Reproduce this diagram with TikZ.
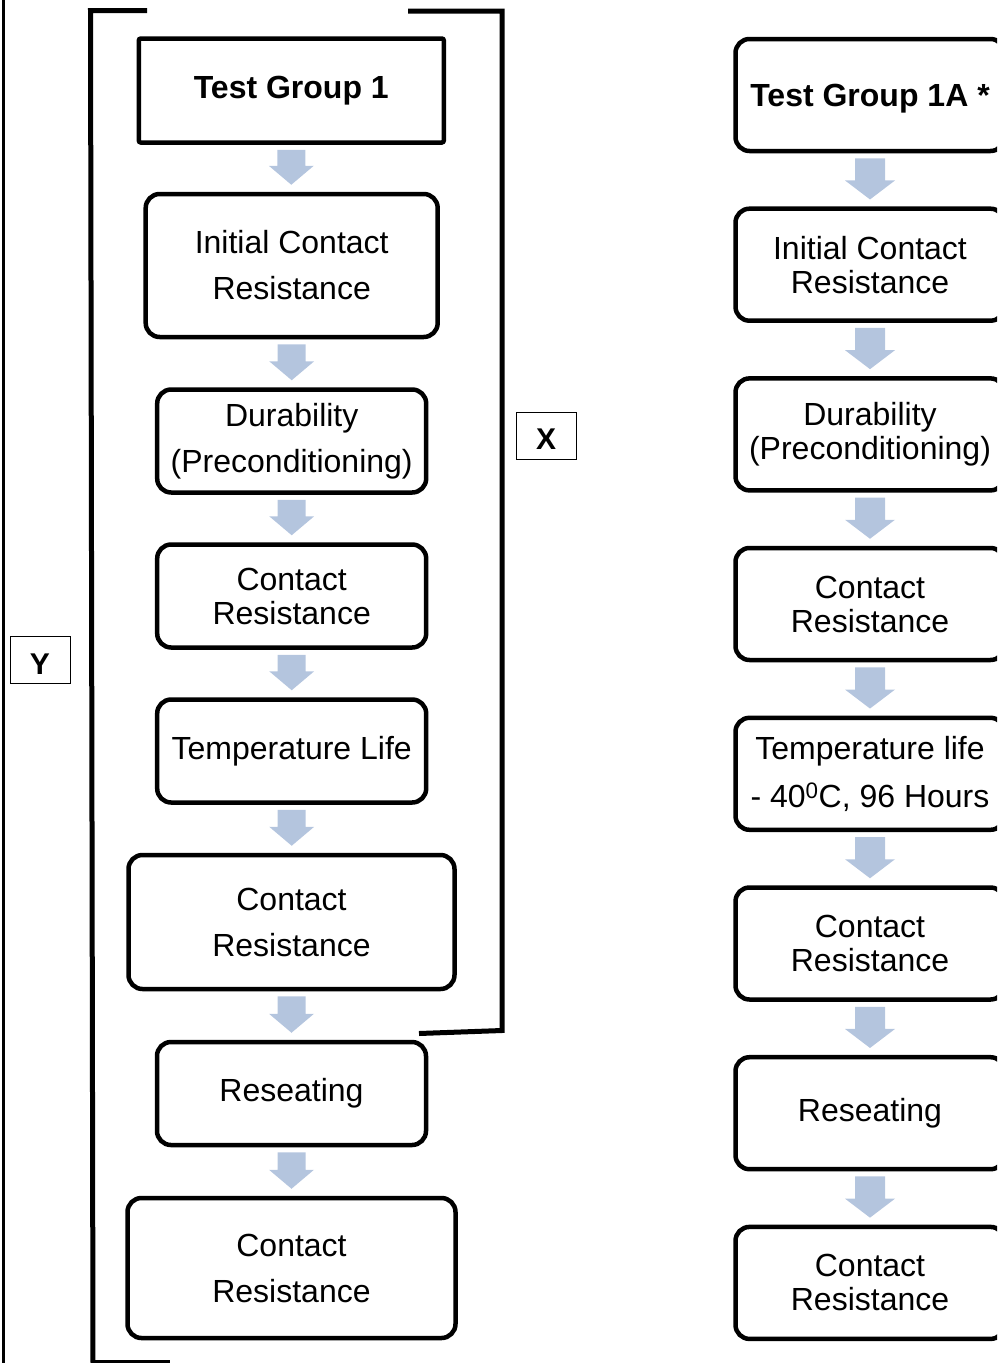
\documentclass[tikz,border=0pt]{standalone}
\usepackage{fontspec}
\setmainfont{Liberation Sans}
\usetikzlibrary{calc}
\definecolor{arrblue}{RGB}{180,197,222}
\newcommand\fatarr[4]{%
 \fill[arrblue] let \p1=(#1.south), \p2=(#2.north) in
  (\x1-#3pt,\y1-5pt) -- (\x1+#3pt,\y1-5pt) -- (\x1+#3pt,\y2+26pt) -- (\x1+#4pt,\y2+26pt)
  -- (\x1,\y2+7pt) -- (\x1-#4pt,\y2+26pt) -- (\x1-#3pt,\y2+26pt) -- cycle;}
\begin{document}
\begin{tikzpicture}[x=1pt,y=-1pt,
  box/.style={draw, line width=4.5pt, rounded corners=14pt, align=center, inner sep=0pt,
    font=\fontsize{32}{46}\selectfont},
  tight/.style={font=\fontsize{32}{34}\selectfont},
  title/.style={font=\bfseries\fontsize{32}{36}\selectfont},
  lw/.style={minimum width=269pt, minimum height=103pt},
  rw/.style={minimum width=269pt, minimum height=112pt},
  bracket/.style={line width=5pt},
  lbl/.style={draw, line width=1pt, inner sep=0pt, font=\bfseries\fontsize{30}{30}\selectfont,
    text height=28pt, text depth=0pt, minimum width=60pt, minimum height=47pt}]
\useasboundingbox (0,0) rectangle (997,1363);
\clip (0,0) rectangle (997,1363);

% outer lines / brackets
\draw[line width=3pt] (3.5,0) -- (3.5,1363);
\draw[bracket] (147,10.5) -- (90.5,10.5) -- (93,1363);
\draw[bracket] (93,1362) -- (170,1362);
\draw[bracket] (408,11) -- (502,11) -- (502,1030.5) -- (419,1033.5);
\node[lbl] (xl) at (546,435.5) {X};
\node[lbl] (yl) at (40,660) {Y};

% left column
\node[box, title, rounded corners=2pt, minimum width=305pt, minimum height=104pt] (a1) at (291.3,90.5) {Test Group 1};
\node[box, minimum width=292pt, minimum height=143pt] (a2) at (291.7,265.5) {Initial Contact\\Resistance};
\node[box, lw] (a3) at (291.7,441) {Durability\\(Preconditioning)};
\node[box, lw, tight] (a4) at (291.7,596) {Contact\\Resistance};
\node[box, lw] (a5) at (291.7,751) {Temperature Life};
\node[box, minimum width=326pt, minimum height=134pt] (a6) at (291.5,922) {Contact\\Resistance};
\node[box, lw] (a7) at (291.5,1093.5) {Reseating};
\node[box, minimum width=328pt, minimum height=140pt] (a8) at (291.5,1268) {Contact\\Resistance};

\fatarr{a1}{a2}{14}{22.5}
\fatarr{a2}{a3}{14}{22.5}
\fatarr{a3}{a4}{14}{22.5}
\fatarr{a4}{a5}{14}{22.5}
\fatarr{a5}{a6}{14}{22.5}
\fatarr{a6}{a7}{14}{22.5}
\fatarr{a7}{a8}{14}{22.5}

% right column
\node[box, rw, title, text depth=0pt] (b1) at (870,95) {Test Group 1A *};
\node[box, rw, tight] (b2) at (870,264.7) {Initial Contact\\Resistance};
\node[box, rw, tight] (b3) at (870,434.4) {Durability\\(Preconditioning)};
\node[box, rw, tight] (b4) at (870,604) {Contact\\Resistance};
\node[box, rw, font=\fontsize{32}{48}\selectfont] (b5) at (870,773.8) {Temperature life\\- 40\textsuperscript{0}C, 96 Hours};
\node[box, rw, tight] (b6) at (870,943.5) {Contact\\Resistance};
\node[box, rw] (b7) at (870,1113.2) {Reseating};
\node[box, rw, tight] (b8) at (870,1282.9) {Contact\\Resistance};

\fatarr{b1}{b2}{15}{25}
\fatarr{b2}{b3}{15}{25}
\fatarr{b3}{b4}{15}{25}
\fatarr{b4}{b5}{15}{25}
\fatarr{b5}{b6}{15}{25}
\fatarr{b6}{b7}{15}{25}
\fatarr{b7}{b8}{15}{25}
\end{tikzpicture}
\end{document}
